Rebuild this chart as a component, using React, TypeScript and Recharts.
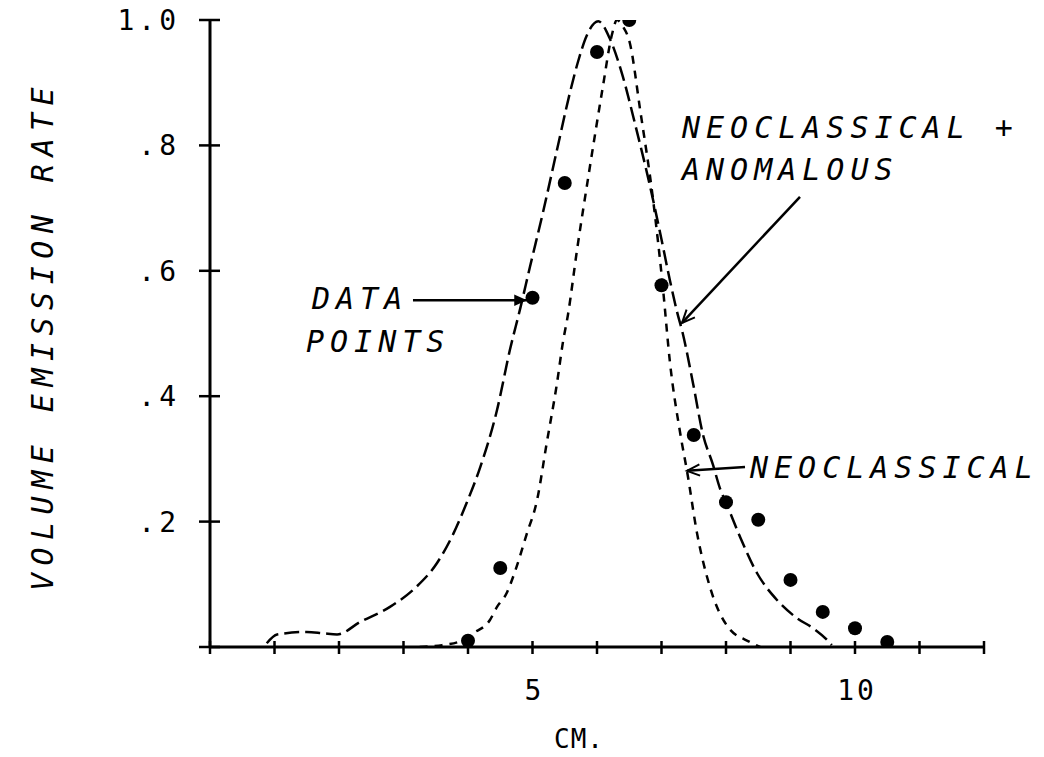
import { ComposedChart, Line, Scatter, XAxis, YAxis, ReferenceLine, ReferenceDot } from 'recharts';

// measured emission points (cm, normalised rate)
const pointX = [4, 4.5, 5, 5.5, 6, 6.5, 7, 7.5, 8, 8.5, 9, 9.5, 10, 10.5];
const pointY = [0.01, 0.126, 0.557, 0.74, 0.949, 1.0, 0.577, 0.338, 0.231, 0.203, 0.107, 0.056, 0.03, 0.008];

// neoclassical + anomalous model
const anomX = [0.88, 1.04, 1.5, 1.75, 1.97, 2.33, 2.79, 3.2, 3.52, 3.77, 3.98, 4.19, 4.45, 4.65, 4.81, 4.96, 5.16, 5.38, 5.58, 5.71, 5.84, 6.02, 6.2, 6.4, 6.6, 6.8, 6.98, 7.13, 7.24, 7.33, 7.49, 7.64, 7.8, 7.9, 8.03, 8.22, 8.48, 8.79, 9.1, 9.35, 9.57, 9.64];
const anomY = [0.006, 0.02, 0.024, 0.022, 0.02, 0.04, 0.064, 0.096, 0.134, 0.18, 0.23, 0.287, 0.378, 0.474, 0.54, 0.606, 0.692, 0.793, 0.884, 0.935, 0.975, 0.998, 0.97, 0.91, 0.83, 0.745, 0.66, 0.585, 0.535, 0.5, 0.42, 0.34, 0.29, 0.255, 0.223, 0.175, 0.118, 0.075, 0.046, 0.03, 0.011, 0.003];

// neoclassical model
const neoX = [3.25, 3.6, 3.9, 4.08, 4.34, 4.45, 4.6, 4.7, 4.91, 5.07, 5.22, 5.38, 5.47, 5.55, 5.69, 5.89, 6.09, 6.23, 6.31, 6.4, 6.51, 6.67, 6.87, 7.02, 7.13, 7.29, 7.4, 7.55, 7.75, 8.03, 8.37, 8.53];
const neoY = [0.0, 0.003, 0.01, 0.022, 0.043, 0.064, 0.086, 0.112, 0.18, 0.234, 0.325, 0.421, 0.485, 0.53, 0.633, 0.766, 0.893, 0.976, 1.0, 0.99, 0.963, 0.856, 0.713, 0.575, 0.455, 0.341, 0.278, 0.182, 0.096, 0.032, 0.008, 0.0];

const xTicks = [0, 1, 2, 3, 4, 5, 6, 7, 8, 9, 10, 11, 12];
const xTickLabels: Record<number, string> = { 5: '5', 10: '10' };
const yTicks = [0, 0.2, 0.4, 0.6, 0.8, 1];
const yTickLabels = ['', '.2', '.4', '.6', '.8', '1.0'];

// annotation arrows: [fromX, fromY, toX, toY, filled head]
const arrows: [number, number, number, number, boolean][] = [
  [9.147, 0.718, 7.318, 0.517, false],
  [3.147, 0.553, 4.915, 0.553, true],
  [8.295, 0.287, 7.395, 0.281, false],
];

// annotation texts: [x, y (baseline), text]
const notes: [number, number, string][] = [
  [7.318, 0.812, 'NEOCLASSICAL +'],
  [7.318, 0.745, 'ANOMALOUS'],
  [1.581, 0.539, 'DATA'],
  [1.488, 0.471, 'POINTS'],
  [8.372, 0.27, 'NEOCLASSICAL'],
];

const toPoints = (xs: number[], ys: number[]) => xs.map((x, i) => ({ x, y: ys[i] }));
const points = toPoints(pointX, pointY);
const anomaly = toPoints(anomX, anomY);
const neoclassical = toPoints(neoX, neoY);

const FONT = '"DejaVu Sans Mono", monospace';

const XTick = (props: any) => {
  const { x, y, payload } = props;
  const label = xTickLabels[payload.value];
  return (
    <g>
      <line x1={x} y1={y - 6} x2={x} y2={y + 7} stroke="#000" strokeWidth={2.5} />
      {label && (
        <text x={x + 2} y={y + 53} textAnchor="middle" fontFamily={FONT} fontSize={28} letterSpacing={3} fill="#000">
          {label}
        </text>
      )}
    </g>
  );
};

const YTick = (props: any) => {
  const { x, y, index } = props;
  const label = yTickLabels[index];
  return (
    <g>
      <line x1={x - 11} y1={y} x2={x + 10} y2={y} stroke="#000" strokeWidth={2.5} />
      {label && (
        <text x={x - 30} y={y + 10} textAnchor="end" fontFamily={FONT} fontSize={28} letterSpacing={4} fill="#000">
          {label}
        </text>
      )}
    </g>
  );
};

const YLabel = (props: any) => {
  const { viewBox } = props;
  const cx = viewBox.x - 68;
  const cy = viewBox.y + viewBox.height / 2 + 2;
  return (
    <text x={cx} y={cy} dy={11} transform={`rotate(-90 ${cx} ${cy})`} textAnchor="middle" fontFamily={FONT} fontStyle="italic" fontSize={30} letterSpacing={7.5} fill="#000">
      VOLUME EMISSION RATE
    </text>
  );
};

const XLabel = (props: any) => {
  const { viewBox } = props;
  return (
    <text x={viewBox.x + viewBox.width / 2 - 18} y={viewBox.y + 101} textAnchor="middle" fontFamily={FONT} fontSize={26} letterSpacing={1} fill="#000">
      CM.
    </text>
  );
};

const arrowShape = (filled: boolean) => (props: any) => {
  const { x1, y1, x2, y2 } = props;
  const ang = Math.atan2(y1 - y2, x1 - x2);
  const len = 14;
  const spread = 0.42;
  const ax = x2 + len * Math.cos(ang + spread);
  const ay = y2 + len * Math.sin(ang + spread);
  const bx = x2 + len * Math.cos(ang - spread);
  const by = y2 + len * Math.sin(ang - spread);
  return (
    <g>
      <line x1={x1} y1={y1} x2={x2} y2={y2} stroke="#000" strokeWidth={2.5} />
      {filled ? (
        <polygon points={`${x2},${y2} ${ax},${ay} ${bx},${by}`} fill="#000" />
      ) : (
        <polyline points={`${ax},${ay} ${x2},${y2} ${bx},${by}`} fill="none" stroke="#000" strokeWidth={2} />
      )}
    </g>
  );
};

const noteLabel = (text: string) => (props: any) => {
  const { viewBox } = props;
  return (
    <text x={viewBox.x} y={viewBox.y} fontFamily={FONT} fontStyle="italic" fontSize={30} letterSpacing={6} fill="#000">
      {text}
    </text>
  );
};

const Dot = (props: any) => <circle cx={props.cx} cy={props.cy} r={7} fill="#000" />;

export default function App() {
  return (
    <div style={{ position: 'absolute', left: 0, top: 0, width: 1044, height: 757, background: '#fff' }}>
      <ComposedChart width={1044} height={757} margin={{ top: 20, right: 60, bottom: 50, left: 110 }}>
        <XAxis
          type="number"
          dataKey="x"
          domain={[0, 12]}
          ticks={xTicks}
          interval={0}
          tickSize={0}
          tickMargin={0}
          tickLine={false}
          axisLine={{ stroke: '#000', strokeWidth: 3 }}
          tick={XTick}
          height={60}
          label={XLabel}
          allowDataOverflow
        />
        <YAxis
          type="number"
          dataKey="y"
          domain={[0, 1]}
          ticks={yTicks}
          interval={0}
          tickSize={0}
          tickMargin={0}
          tickLine={false}
          axisLine={{ stroke: '#000', strokeWidth: 3 }}
          tick={YTick}
          width={100}
          label={YLabel}
          allowDataOverflow
        />
        <Line data={anomaly} dataKey="y" type="monotone" stroke="#000" strokeWidth={2.5} strokeDasharray="15 6" dot={false} activeDot={false} isAnimationActive={false} />
        <Line data={neoclassical} dataKey="y" type="monotone" stroke="#000" strokeWidth={2.5} strokeDasharray="8 7" dot={false} activeDot={false} isAnimationActive={false} />
        <Scatter data={points} dataKey="y" shape={Dot} isAnimationActive={false} />
        {arrows.map(([fx, fy, tx, ty, filled], i) => (
          <ReferenceLine
            key={`a${i}`}
            segment={[{ x: fx, y: fy }, { x: tx, y: ty }]}
            ifOverflow="visible"
            shape={arrowShape(filled)}
          />
        ))}
        {notes.map(([nx, ny, text], i) => (
          <ReferenceDot key={`n${i}`} x={nx} y={ny} r={0} fill="none" stroke="none" ifOverflow="visible" label={noteLabel(text)} />
        ))}
      </ComposedChart>
    </div>
  );
}
